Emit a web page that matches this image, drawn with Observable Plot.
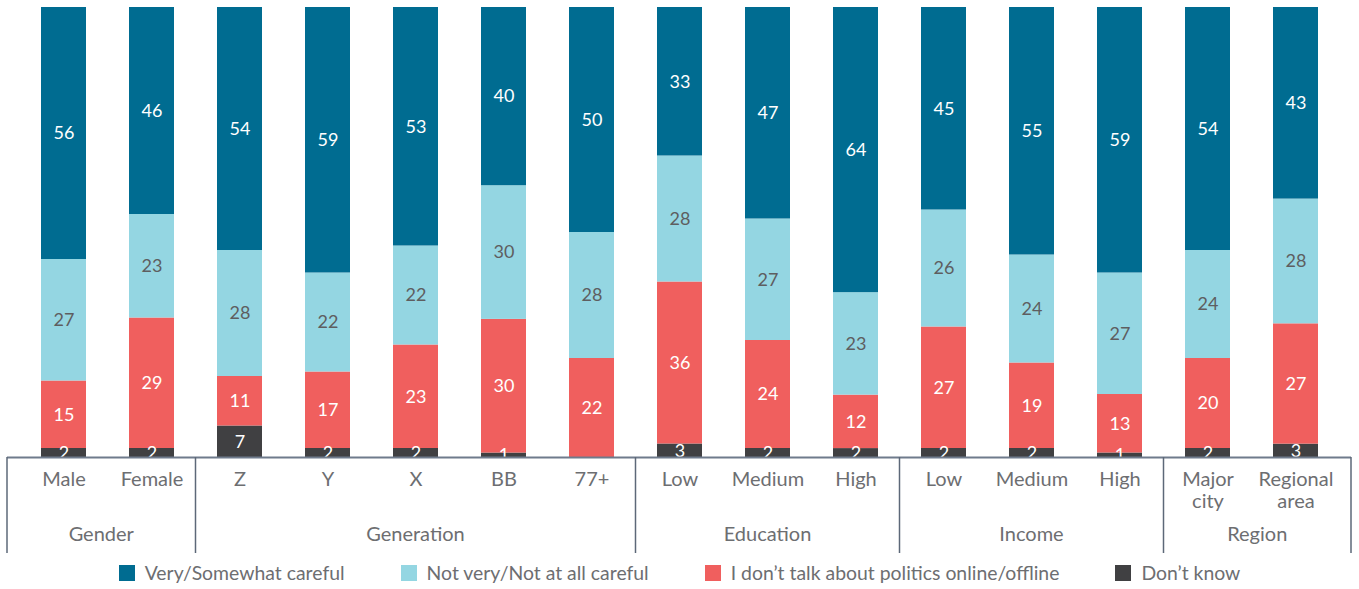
<!DOCTYPE html>
<html><head><meta charset="utf-8">
<script src="https://cdn.jsdelivr.net/npm/d3@7"></script>
<script src="https://cdn.jsdelivr.net/npm/@observablehq/plot@0.6"></script>
<style>
body{margin:0;background:#fff;font-family:Lato,sans-serif;}
#chart svg{display:block;}
#legend{display:flex;justify-content:center;align-items:center;gap:56px;font-size:19.4px;line-height:22px;color:#6d6e71;padding-top:4px;}
#legend .item{display:flex;align-items:center;}
#legend .sw{width:16px;height:16px;margin-right:10px;}
</style></head><body><div id="chart"></div><div id="legend"></div>
<script>
// ---- data ----
const groups = ["Gender","Generation","Education","Income","Region"];
const categories = ["Male","Female","Z","Y","X","BB","77+","Low","Medium","High","Low","Medium","High","Major\ncity","Regional\narea"];
const categoryGroup = [0,0,1,1,1,1,1,2,2,2,3,3,3,4,4];
const series = ["Very/Somewhat careful","Not very/Not at all careful","I don\u2019t talk about politics online/offline","Don\u2019t know"];
const careful    = [56,46,54,59,53,40,50,33,47,64,45,55,59,54,43];
const notCareful = [27,23,28,22,22,30,28,28,27,23,26,24,27,24,28];
const noTalk     = [15,29,11,17,23,30,22,36,24,12,27,19,13,20,27];
const dontKnow   = [2,2,7,2,2,1,0,3,2,2,2,2,1,2,3];

// ---- styles ----
const seriesColors = ["#006c91","#94d6e2","#f05f5e","#404042"];
const labelColors = ["#ffffff","#5e5e60","#ffffff","#ffffff"];
const textGray = "#6d6e71";

const ids = categories.map((c,i)=> i + ":" + c);
const seriesValues = [careful, notCareful, noTalk, dontKnow];
const rows = [];
ids.forEach((id,i)=>{
  [3,2,1,0].forEach(s=>{
    rows.push({id, series: series[s], value: seriesValues[s][i], color: seriesColors[s], tcolor: labelColors[s]});
  });
});
const labelOf = id => id.slice(id.indexOf(":")+1);

const plot = Plot.plot({
  width: 1359, height: 558,
  marginTop: 7, marginBottom: 101, marginLeft: 7, marginRight: 8,
  style: {fontFamily: "Lato, sans-serif", background: "#fff"},
  x: {domain: ids, paddingInner: 0.49, paddingOuter: 0.38, axis: null, label: null},
  y: {axis: null},
  color: {type: "identity"},
  marks: [
    Plot.barY(rows, Plot.stackY({offset: "normalize", x: "id", y: "value", z: "series", fill: "color"})),
    Plot.text(rows, Plot.stackY({offset: "normalize", x: "id", y: "value", z: "series",
      text: d => d.value > 0 ? String(d.value) : null, fill: "tcolor", fontSize: 18})),
    Plot.axisX({tickSize: 0, tickPadding: 13, tickFormat: labelOf, fontSize: 20, lineHeight: 1.1, color: textGray, label: null}),
    Plot.ruleY([0], {stroke: "#6f7b8c", strokeWidth: 2})
  ]
});
document.getElementById("chart").appendChild(plot);

// group separators and group labels, positioned with the plot's x scale
const xs = plot.scale("x");
const step = xs.step || (xs.apply(ids[1]) - xs.apply(ids[0]));
const bw = xs.bandwidth;
const [r0, r1] = xs.range;
const bounds = [r0];
for (let i = 1; i < ids.length; i++) {
  if (categoryGroup[i] !== categoryGroup[i-1]) bounds.push(xs.apply(ids[i]) - (step - bw)/2);
}
bounds.push(r1);
const svg = d3.select(plot);
const yAxis = 457;
const g = svg.append("g");
bounds.forEach(b=>{
  g.append("line").attr("x1", b).attr("x2", b).attr("y1", yAxis).attr("y2", 553)
    .attr("stroke", "#5d6878").attr("stroke-width", 1.5);
});
groups.forEach((name, k)=>{
  g.append("text").attr("x", (bounds[k] + bounds[k+1]) / 2).attr("y", 541)
    .attr("text-anchor", "middle").attr("font-size", 20).attr("fill", textGray).text(name);
});

// legend
const legend = d3.select("#legend");
series.forEach((s, i)=>{
  const it = legend.append("div").attr("class", "item");
  it.append("div").attr("class", "sw").style("background", seriesColors[i]);
  it.append("span").text(s);
});
</script></body></html>
